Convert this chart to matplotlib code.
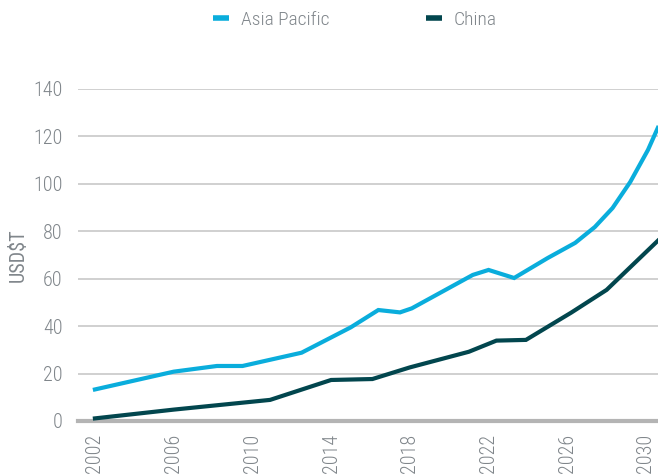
import matplotlib.pyplot as plt

# kink points (year, USD trillions)
ap_years = [2002, 2006, 2008.2, 2009.5, 2012.5, 2015.0, 2016.4, 2017.5, 2018.1,
            2021.2, 2022.0, 2023.3, 2025.0, 2026.4, 2027.4, 2028.3, 2029.2,
            2030.1, 2030.6]
ap_values = [13.3, 20.8, 23.2, 23.2, 28.8, 39.5, 46.8, 45.8, 47.5,
             61.6, 63.7, 60.3, 68.7, 75.1, 81.8, 89.8, 100.8,
             114.3, 123.6]

china_years = [2002, 2006, 2010.9, 2014.0, 2016.1, 2018.0, 2021.0, 2022.4,
               2023.9, 2026.2, 2028.0, 2030.6]
china_values = [1.1, 4.8, 8.9, 17.3, 17.7, 22.6, 29.2, 33.9,
                34.2, 45.7, 55.3, 76.0]

xticks = [2002, 2006, 2010, 2014, 2018, 2022, 2026, 2030]
yticks = [0, 20, 40, 60, 80, 100, 120, 140]

plt.rcParams['font.family'] = ['Roboto Condensed', 'DejaVu Sans']
plt.rcParams['font.weight'] = 300

text_color = '#80868b'
ap_color = '#0aaddc'
china_color = '#02464e'

fig = plt.figure(figsize=(6.58, 4.74), dpi=100)
ax = fig.add_axes([78 / 658, 1 - 421 / 474, 1 - 78 / 658, (421 - 89) / 474])

ax.plot(ap_years, ap_values, color=ap_color, lw=3, label='Asia Pacific',
        solid_joinstyle='miter', zorder=3)
ax.plot(china_years, china_values, color=china_color, lw=3, label='China',
        solid_joinstyle='miter', zorder=3)

ax.set_xlim(2001.14, 2030.61)
ax.set_ylim(0, 140)
ax.set_xticks(xticks)
ax.set_xticklabels([str(t) for t in xticks], rotation=90)
ax.set_yticks(yticks)

for s in ax.spines.values():
    s.set_visible(False)
ax.grid(axis='y', color='#c8c8c8', lw=1.2, zorder=1)
ax.axhline(0, color='#b4b4b4', lw=3, zorder=2, clip_on=False)

ax.tick_params(axis='both', length=0, labelsize=14.5, colors=text_color)
ax.tick_params(axis='y', pad=11)
ax.tick_params(axis='x', pad=9)
ax.set_ylabel('USD$T', fontsize=14.5, color=text_color, labelpad=4)

leg = fig.legend(loc='center', bbox_to_anchor=(355 / 658, 1 - 20 / 474), ncol=2,
                 frameon=False, fontsize=14, handlelength=0.8, handletextpad=0.6,
                 columnspacing=5.0, labelcolor=text_color)
for line in leg.get_lines():
    line.set_linewidth(4)
    line.set_solid_capstyle('butt')

fig.savefig('out.png', dpi=100)
